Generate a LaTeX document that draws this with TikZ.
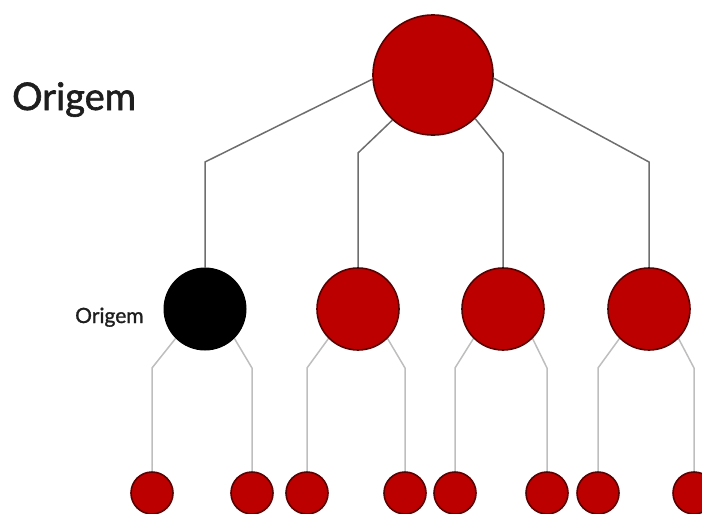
\documentclass[tikz,border=0pt]{standalone}
\usepackage{fontspec}
\setmainfont{Lato}
\definecolor{nodered}{RGB}{188,0,0}
\definecolor{noderim}{RGB}{90,0,0}
\definecolor{darkline}{RGB}{110,110,110}
\definecolor{lightline}{RGB}{190,190,190}
\definecolor{txt}{RGB}{30,30,30}
\pgfdeclarelayer{bg}
\pgfsetlayers{bg,main}
\begin{document}
\begin{tikzpicture}[x=1pt,y=1pt,
  redball/.style={circle,fill=nodered,draw=noderim,line width=1.6pt,inner sep=0pt},
  blackball/.style={circle,fill=black,draw=black,line width=1pt,inner sep=0pt},
  bigball/.style={minimum size=120pt},
  midball/.style={minimum size=82pt},
  smallball/.style={minimum size=42pt},
  upperlink/.style={draw=darkline,line width=1.5pt},
  lowerlink/.style={draw=lightline,line width=1.5pt},
  lbl/.style={anchor=base west,inner sep=0pt,text=txt}]
\useasboundingbox (0,0) rectangle (702,-514);
\clip (0,0) rectangle (702,-514);
% circles
\node[redball,bigball] (top) at (433,-75) {};
\node[blackball,midball] (m1) at (205,-309) {};
\node[redball,midball] (m2) at (358,-309) {};
\node[redball,midball] (m3) at (503,-309) {};
\node[redball,midball] (m4) at (649,-309) {};
\node[redball,smallball] (b1) at (152,-493) {};
\node[redball,smallball] (b2) at (252,-493) {};
\node[redball,smallball] (b3) at (307,-493) {};
\node[redball,smallball] (b4) at (405,-493) {};
\node[redball,smallball] (b5) at (455,-493) {};
\node[redball,smallball] (b6) at (547,-493) {};
\node[redball,smallball] (b7) at (598,-493) {};
\node[redball,smallball] (b8) at (694,-493) {};
\begin{pgfonlayer}{bg}
% upper connectors
\draw[upperlink] (top.184) -- (m1.north |- 0,-162) -- (m1.north);
\draw[upperlink] (top.228) -- (m2.north |- 0,-153) -- (m2.north);
\draw[upperlink] (top.314) -- (m3.north |- 0,-153) -- (m3.north);
\draw[upperlink] (top.357) -- (m4.north |- 0,-162) -- (m4.north);
% lower connectors
\draw[lowerlink] (m1.225) -- (b1.north |- 0,-368) -- (b1.north);
\draw[lowerlink] (m1.315) -- (b2.north |- 0,-368) -- (b2.north);
\draw[lowerlink] (m2.225) -- (b3.north |- 0,-368) -- (b3.north);
\draw[lowerlink] (m2.315) -- (b4.north |- 0,-368) -- (b4.north);
\draw[lowerlink] (m3.225) -- (b5.north |- 0,-368) -- (b5.north);
\draw[lowerlink] (m3.315) -- (b6.north |- 0,-368) -- (b6.north);
\draw[lowerlink] (m4.225) -- (b7.north |- 0,-368) -- (b7.north);
\draw[lowerlink] (m4.315) -- (b8.north |- 0,-368) -- (b8.north);
\end{pgfonlayer}
% labels
\node[lbl,font=\fontsize{38}{42}\selectfont\addfontfeature{FakeBold=1.6}] (lbig) at (12,-110) {Origem};
\node[lbl,font=\fontsize{21}{24}\selectfont\addfontfeature{FakeBold=1.2}] (lsmall) at (75,-323) {Origem};
\end{tikzpicture}
\end{document}
